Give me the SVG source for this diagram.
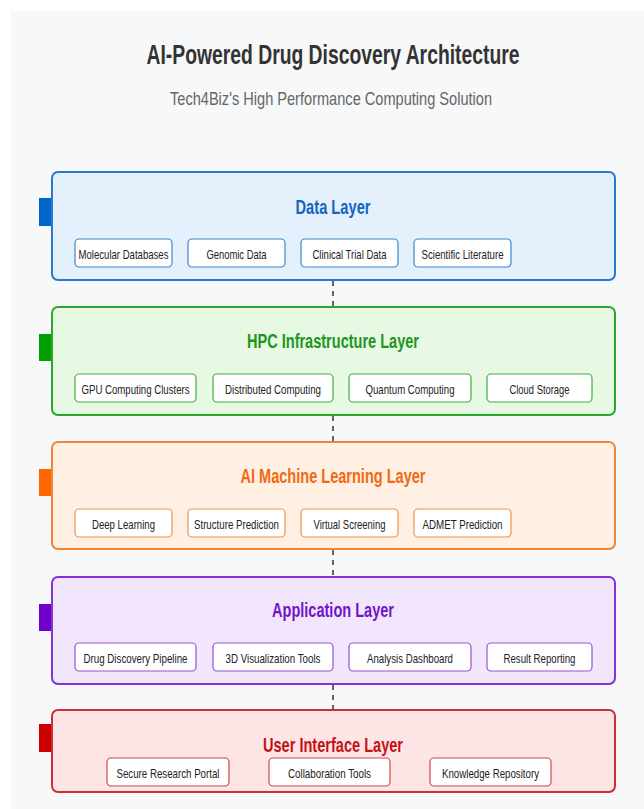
<svg xmlns="http://www.w3.org/2000/svg" width="644" height="809" viewBox="0 0 644 809">
<style>
text{font-family:"Liberation Sans",Arial,sans-serif}
.lt{font-size:21px;font-weight:bold;text-anchor:middle}
.it{font-size:13.5px;fill:#222;text-anchor:middle}
.layer{stroke-width:2}
.item{fill:#fff;stroke-width:1.2}
.conn{stroke:#333;stroke-width:1.5;stroke-dasharray:5 5;fill:none}
.blue .layer{fill:#e4f0fc;stroke:#2a78cf}.blue .item{stroke:#3d86d3}.blue .lt{fill:#1565c0}.blue .tab{fill:#0066cc}
.green .layer{fill:#e7f8e3;stroke:#2aa82a}.green .item{stroke:#3fae3f}.green .lt{fill:#1e961e}.green .tab{fill:#00a000}
.orange .layer{fill:#fff0e3;stroke:#f08536}.orange .item{stroke:#f0914a}.orange .lt{fill:#ef6a12}.orange .tab{fill:#ff6600}
.purple .layer{fill:#f2e6fd;stroke:#8434d6}.purple .item{stroke:#9352d8}.purple .lt{fill:#7414c8}.purple .tab{fill:#7000cc}
.red .layer{fill:#fde5e5;stroke:#cc2f36}.red .item{stroke:#cc4a50}.red .lt{fill:#c4121a}.red .tab{fill:#cc0000}
</style>
<rect x="0" y="0" width="644" height="809" fill="#ffffff"/>
<rect x="11" y="11" width="640" height="805" fill="#f7f8fa"/>
<text x="333" y="64" font-size="27" font-weight="bold" fill="#333" text-anchor="middle" textLength="373" lengthAdjust="spacingAndGlyphs">AI-Powered Drug Discovery Architecture</text>
<text x="331" y="105" font-size="19" fill="#666" text-anchor="middle" textLength="322" lengthAdjust="spacingAndGlyphs">Tech4Biz's High Performance Computing Solution</text>

<g id="connectors">
<line class="conn" x1="333" y1="281" x2="333" y2="307"/>
<line class="conn" x1="333" y1="416" x2="333" y2="442"/>
<line class="conn" x1="333" y1="550" x2="333" y2="577"/>
<line class="conn" x1="333" y1="685" x2="333" y2="710"/>
</g>

<g id="data-layer" class="blue">
<rect class="tab" x="39" y="198" width="14" height="28"/>
<rect class="layer" x="52" y="172" width="563" height="108" rx="6"/>
<text class="lt" x="333" y="214" textLength="75" lengthAdjust="spacingAndGlyphs">Data Layer</text>
<rect class="item" x="75" y="239" width="97" height="28" rx="4"/>
<text class="it" x="123.5" y="258.5" textLength="90" lengthAdjust="spacingAndGlyphs">Molecular Databases</text>
<rect class="item" x="188" y="239" width="97" height="28" rx="4"/>
<text class="it" x="236.5" y="258.5" textLength="60" lengthAdjust="spacingAndGlyphs">Genomic Data</text>
<rect class="item" x="301" y="239" width="97" height="28" rx="4"/>
<text class="it" x="349.5" y="258.5" textLength="74" lengthAdjust="spacingAndGlyphs">Clinical Trial Data</text>
<rect class="item" x="414" y="239" width="97" height="28" rx="4"/>
<text class="it" x="462.5" y="258.5" textLength="82" lengthAdjust="spacingAndGlyphs">Scientific Literature</text>
</g>

<g id="hpc-layer" class="green">
<rect class="tab" x="39" y="334" width="14" height="27"/>
<rect class="layer" x="52" y="307" width="563" height="108" rx="6"/>
<text class="lt" x="333" y="348" textLength="172" lengthAdjust="spacingAndGlyphs">HPC Infrastructure Layer</text>
<rect class="item" x="75" y="374" width="121" height="28" rx="4"/>
<text class="it" x="135.5" y="393.5" textLength="108" lengthAdjust="spacingAndGlyphs">GPU Computing Clusters</text>
<rect class="item" x="213" y="374" width="120" height="28" rx="4"/>
<text class="it" x="273" y="393.5" textLength="96" lengthAdjust="spacingAndGlyphs">Distributed Computing</text>
<rect class="item" x="349" y="374" width="122" height="28" rx="4"/>
<text class="it" x="410" y="393.5" textLength="89" lengthAdjust="spacingAndGlyphs">Quantum Computing</text>
<rect class="item" x="487" y="374" width="105" height="28" rx="4"/>
<text class="it" x="539.5" y="393.5" textLength="60" lengthAdjust="spacingAndGlyphs">Cloud Storage</text>
</g>

<g id="ai-ml-layer" class="orange">
<rect class="tab" x="39" y="469" width="14" height="27"/>
<rect class="layer" x="52" y="442" width="563" height="107" rx="6"/>
<text class="lt" x="333" y="483" textLength="185" lengthAdjust="spacingAndGlyphs">AI Machine Learning Layer</text>
<rect class="item" x="75" y="509" width="97" height="28" rx="4"/>
<text class="it" x="123.5" y="528.5" textLength="63" lengthAdjust="spacingAndGlyphs">Deep Learning</text>
<rect class="item" x="188" y="509" width="97" height="28" rx="4"/>
<text class="it" x="236.5" y="528.5" textLength="85" lengthAdjust="spacingAndGlyphs">Structure Prediction</text>
<rect class="item" x="301" y="509" width="97" height="28" rx="4"/>
<text class="it" x="349.5" y="528.5" textLength="72" lengthAdjust="spacingAndGlyphs">Virtual Screening</text>
<rect class="item" x="414" y="509" width="97" height="28" rx="4"/>
<text class="it" x="462.5" y="528.5" textLength="80" lengthAdjust="spacingAndGlyphs">ADMET Prediction</text>
</g>

<g id="application-layer" class="purple">
<rect class="tab" x="39" y="604" width="14" height="27"/>
<rect class="layer" x="52" y="577" width="563" height="107" rx="6"/>
<text class="lt" x="333" y="617" textLength="122" lengthAdjust="spacingAndGlyphs">Application Layer</text>
<rect class="item" x="75" y="643" width="121" height="28" rx="4"/>
<text class="it" x="135.5" y="662.5" textLength="104" lengthAdjust="spacingAndGlyphs">Drug Discovery Pipeline</text>
<rect class="item" x="213" y="643" width="120" height="28" rx="4"/>
<text class="it" x="273" y="662.5" textLength="95" lengthAdjust="spacingAndGlyphs">3D Visualization Tools</text>
<rect class="item" x="349" y="643" width="122" height="28" rx="4"/>
<text class="it" x="410" y="662.5" textLength="86" lengthAdjust="spacingAndGlyphs">Analysis Dashboard</text>
<rect class="item" x="487" y="643" width="105" height="28" rx="4"/>
<text class="it" x="539.5" y="662.5" textLength="72" lengthAdjust="spacingAndGlyphs">Result Reporting</text>
</g>

<g id="ui-layer" class="red">
<rect class="tab" x="39" y="724" width="14" height="28"/>
<rect class="layer" x="52" y="710" width="563" height="82" rx="6"/>
<text class="lt" x="333" y="752" textLength="140" lengthAdjust="spacingAndGlyphs">User Interface Layer</text>
<rect class="item" x="107" y="758" width="122" height="28" rx="4"/>
<text class="it" x="168" y="777.5" textLength="103" lengthAdjust="spacingAndGlyphs">Secure Research Portal</text>
<rect class="item" x="269" y="758" width="121" height="28" rx="4"/>
<text class="it" x="329.5" y="777.5" textLength="83" lengthAdjust="spacingAndGlyphs">Collaboration Tools</text>
<rect class="item" x="430" y="758" width="121" height="28" rx="4"/>
<text class="it" x="490.5" y="777.5" textLength="97" lengthAdjust="spacingAndGlyphs">Knowledge Repository</text>
</g>
</svg>
